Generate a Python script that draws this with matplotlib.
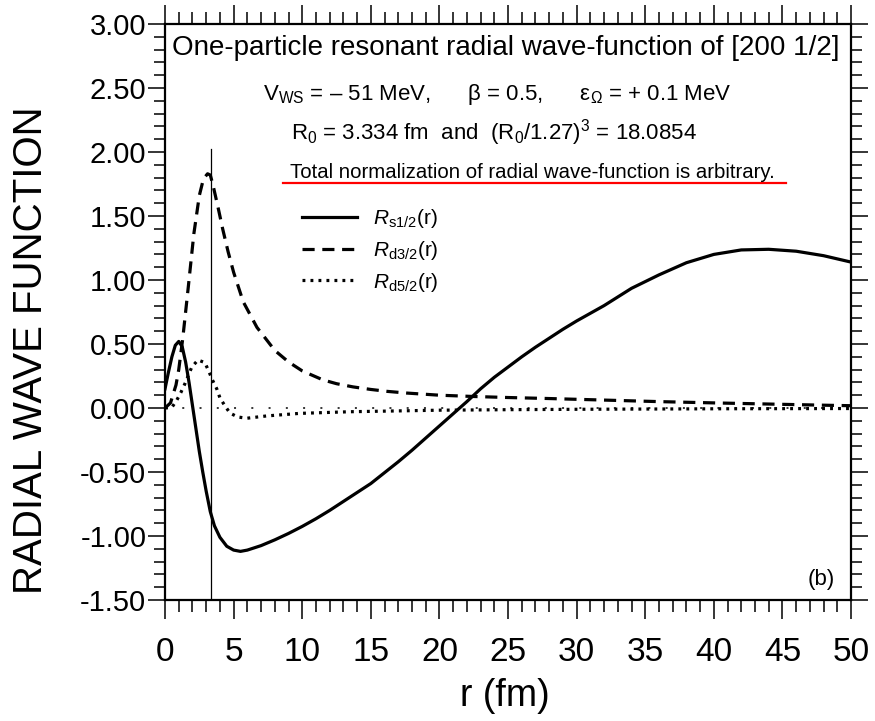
import matplotlib
matplotlib.use("Agg")
import matplotlib.pyplot as plt
from matplotlib.ticker import MultipleLocator, FormatStrFormatter

plt.rcParams['font.family'] = ['Liberation Sans', 'DejaVu Sans']
plt.rcParams['axes.unicode_minus'] = False
plt.rcParams['mathtext.fontset'] = 'custom'
plt.rcParams['mathtext.rm'] = 'Liberation Sans'
plt.rcParams['mathtext.it'] = 'Liberation Sans:italic'

# values
r_s12 = [0, 0.25, 0.5, 0.75, 1.0, 1.25, 1.5, 1.75, 2.0, 2.25, 2.5, 2.75, 3.0, 3.3,
         3.6, 4.0, 4.5, 5.0, 5.5, 6.0, 7, 8, 9, 10, 11, 12, 13, 14, 15, 16, 17, 18,
         19, 20, 21, 22, 23, 24, 25, 26, 27, 28, 29, 30, 32, 34, 36, 38, 40, 42,
         44, 46, 48, 50]
R_s12 = [0.15, 0.28, 0.40, 0.49, 0.52, 0.48, 0.36, 0.20, 0.02, -0.16, -0.34, -0.50,
         -0.65, -0.81, -0.92, -1.01, -1.08, -1.11, -1.12, -1.11, -1.075, -1.03,
         -0.98, -0.925, -0.865, -0.80, -0.73, -0.66, -0.59, -0.505, -0.42, -0.33,
         -0.235, -0.14, -0.045, 0.05, 0.15, 0.24, 0.32, 0.40, 0.475, 0.545, 0.615,
         0.68, 0.80, 0.935, 1.04, 1.135, 1.20, 1.235, 1.24, 1.225, 1.19, 1.14]

r_d32 = [0, 0.4, 0.8, 1.0, 1.3, 1.7, 2.1, 2.5, 2.8, 3.1, 3.3, 3.5, 3.9, 4.2, 4.6,
         5.0, 5.7, 6.7, 8, 9, 10, 11.5, 12.5, 13.7, 15, 16.2, 17.6, 20, 22.5, 25,
         28, 32, 36, 40, 44, 48, 50]
R_d32 = [0.0, 0.04, 0.18, 0.30, 0.55, 0.95, 1.36, 1.66, 1.79, 1.83, 1.82, 1.74,
         1.55, 1.40, 1.22, 1.06, 0.83, 0.63, 0.45, 0.36, 0.29, 0.22, 0.19, 0.165,
         0.145, 0.13, 0.117, 0.10, 0.09, 0.082, 0.074, 0.062, 0.05, 0.04, 0.031,
         0.022, 0.018]

r_d52 = [0, 0.5, 0.85, 1.15, 1.45, 1.95, 2.4, 2.9, 3.2, 3.45, 3.77, 4.0, 4.37, 4.74,
         5.3, 5.95, 7.4, 9.8, 13.5, 20, 25, 30, 40, 50]
R_d52 = [0.0, 0.005, 0.06, 0.12, 0.19, 0.32, 0.375, 0.355, 0.285, 0.22, 0.15, 0.08,
         0.016, -0.04, -0.07, -0.08, -0.062, -0.042, -0.029, -0.017, -0.013, -0.01,
         -0.006, -0.004]

R0 = 3.334
vline_top = 2.02

fig = plt.figure(figsize=(8.75, 7.21), dpi=100)
ax = fig.add_axes([0.1886, 0.1678, 0.784, 0.7989])

ax.plot(r_s12, R_s12, color="black", lw=2.3, solid_joinstyle="round",
        label=r"$\mathit{R}_{\mathrm{s1/2}}$(r)")
ax.plot(r_d32, R_d32, color="black", lw=2.3, linestyle=(0, (3.8, 2.4)),
        label=r"$\mathit{R}_{\mathrm{d3/2}}$(r)")
ax.plot(r_d52, R_d52, color="black", lw=2.3, linestyle=(0, (0.9, 1.6)),
        label=r"$\mathit{R}_{\mathrm{d5/2}}$(r)")

ax.axhline(0, color="black", lw=1.1, linestyle=(0, (1.3, 10)))
ax.plot([R0, R0], [-1.5, vline_top], color="black", lw=0.9)

ax.set_xlim(0, 50)
ax.set_ylim(-1.5, 3.0)
ax.xaxis.set_major_locator(MultipleLocator(5))
ax.xaxis.set_minor_locator(MultipleLocator(1))
ax.yaxis.set_major_locator(MultipleLocator(0.5))
ax.yaxis.set_minor_locator(MultipleLocator(0.1))
ax.yaxis.set_major_formatter(FormatStrFormatter('%.2f'))

for s in ax.spines.values():
    s.set_linewidth(1.6)
ax.tick_params(axis="x", which="both", direction="out", top=True, bottom=True,
               width=1.1, labelsize=24, pad=13)
ax.tick_params(axis="x", which="major", length=13.5)
ax.tick_params(axis="x", which="minor", length=8.5)
ax.tick_params(axis="y", which="both", direction="out", left=True, right=True,
               width=1.1)
ax.tick_params(axis="y", which="major", length=12.5, labelsize=21, pad=1)
ax.tick_params(axis="y", which="minor", length=8)

ax.set_xlabel("r (fm)", fontsize=27)
ax.xaxis.set_label_coords(0.496, -0.135)
ax.set_ylabel("RADIAL WAVE FUNCTION", fontsize=29)
ax.yaxis.set_label_coords(-0.168, 0.434)

ax.text(0.497, 0.958, "One-particle resonant radial wave-function of [200 1/2]",
        transform=ax.transAxes, ha="center", va="center", fontsize=20)
ax.text(0.484, 0.877,
        r"V$_{\mathrm{WS}}$ = – 51 MeV,      β = 0.5,      ε$_{\Omega}$ = + 0.1 MeV",
        transform=ax.transAxes, ha="center", va="center", fontsize=16)
ax.text(0.479, 0.811,
        r"R$_{0}$ = 3.334 fm  and  (R$_{0}$/1.27)$^{3}$ = 18.0854",
        transform=ax.transAxes, ha="center", va="center", fontsize=16)
ax.text(0.536, 0.743, "Total normalization of radial wave-function is arbitrary.",
        transform=ax.transAxes, ha="center", va="center", fontsize=14.7)
ax.plot([0.172, 0.905], [0.724, 0.724], transform=ax.transAxes, color="red", lw=1.6)
ax.text(0.977, 0.035, "(b)", transform=ax.transAxes, ha="right", va="center",
        fontsize=16)

ax.legend(loc="upper left", bbox_to_anchor=(0.2, 0.682), frameon=False, fontsize=15,
          handlelength=2.65, handletextpad=0.75, labelspacing=0.42, borderpad=0,
          borderaxespad=0)

fig.savefig("out.png", dpi=100)
